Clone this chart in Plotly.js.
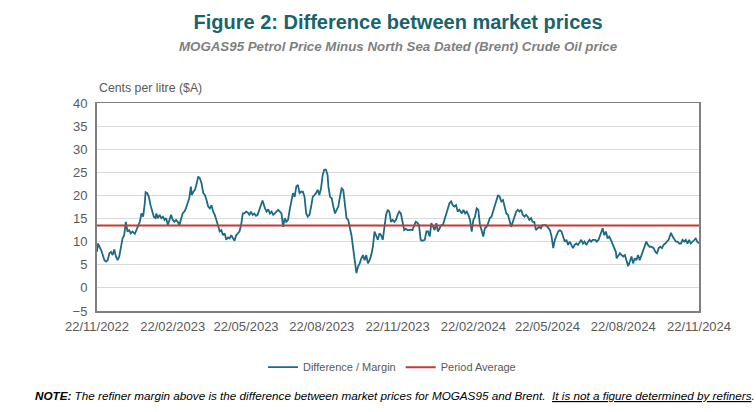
<!DOCTYPE html>
<html>
<head>
<meta charset="utf-8">
<script src="https://cdn.plot.ly/plotly-3.0.1.min.js"></script>
<style>html,body{margin:0;padding:0;background:#fff;}#chart{width:756px;height:412px;}</style>
</head>
<body>
<div id="chart"></div>
<script>
const dates = [
"2022-11-22","2022-11-23","2022-11-25","2022-11-27","2022-11-29","2022-12-01","2022-12-03","2022-12-05","2022-12-07","2022-12-09",
"2022-12-11","2022-12-13","2022-12-15","2022-12-17","2022-12-19","2022-12-21","2022-12-23","2022-12-25","2022-12-27","2022-12-29",
"2022-12-31","2023-01-02","2023-01-04","2023-01-07","2023-01-09","2023-01-11","2023-01-13","2023-01-15","2023-01-17","2023-01-19",
"2023-01-20","2023-01-22","2023-01-24","2023-01-26","2023-01-28","2023-01-30","2023-02-01","2023-02-02","2023-02-04","2023-02-06",
"2023-02-08","2023-02-10","2023-02-12","2023-02-14","2023-02-16","2023-02-18","2023-02-20","2023-02-22","2023-02-24","2023-02-26",
"2023-02-28","2023-03-02","2023-03-04","2023-03-06","2023-03-08","2023-03-10","2023-03-12","2023-03-14","2023-03-16","2023-03-17",
"2023-03-19","2023-03-21","2023-03-23","2023-03-25","2023-03-27","2023-03-29","2023-03-31","2023-04-02","2023-04-04","2023-04-06",
"2023-04-08","2023-04-10","2023-04-12","2023-04-14","2023-04-16","2023-04-18","2023-04-20","2023-04-22","2023-04-24","2023-04-26",
"2023-04-28","2023-04-30","2023-05-02","2023-05-04","2023-05-06","2023-05-08","2023-05-10","2023-05-12","2023-05-14","2023-05-16",
"2023-05-18","2023-05-20","2023-05-22","2023-05-24","2023-05-26","2023-05-28","2023-05-30","2023-06-01","2023-06-03","2023-06-05",
"2023-06-07","2023-06-09","2023-06-11","2023-06-14","2023-06-16","2023-06-18","2023-06-20","2023-06-22","2023-06-24","2023-06-26",
"2023-06-28","2023-06-30","2023-07-02","2023-07-04","2023-07-06","2023-07-08","2023-07-10","2023-07-12","2023-07-14","2023-07-16",
"2023-07-18","2023-07-20","2023-07-22","2023-07-24","2023-07-26","2023-07-28","2023-07-30","2023-08-01","2023-08-03","2023-08-05",
"2023-08-07","2023-08-09","2023-08-11","2023-08-13","2023-08-15","2023-08-17","2023-08-19","2023-08-21","2023-08-23","2023-08-25",
"2023-08-27","2023-08-29","2023-08-30","2023-09-01","2023-09-03","2023-09-05","2023-09-07","2023-09-09","2023-09-11","2023-09-13",
"2023-09-15","2023-09-17","2023-09-19","2023-09-21","2023-09-23","2023-09-25","2023-09-27","2023-09-29","2023-10-01","2023-10-03",
"2023-10-05","2023-10-07","2023-10-09","2023-10-11","2023-10-13","2023-10-15","2023-10-17","2023-10-19","2023-10-21","2023-10-23",
"2023-10-25","2023-10-27","2023-10-29","2023-10-31","2023-11-02","2023-11-04","2023-11-06","2023-11-08","2023-11-10","2023-11-12",
"2023-11-14","2023-11-16","2023-11-18","2023-11-20","2023-11-22","2023-11-24","2023-11-26","2023-11-28","2023-11-30","2023-12-02",
"2023-12-04","2023-12-06","2023-12-08","2023-12-10","2023-12-12","2023-12-14","2023-12-16","2023-12-18","2023-12-20","2023-12-22",
"2023-12-25","2023-12-27","2023-12-29","2023-12-31","2024-01-02","2024-01-04","2024-01-06","2024-01-08","2024-01-10","2024-01-12",
"2024-01-14","2024-01-16","2024-01-18","2024-01-20","2024-01-22","2024-01-24","2024-01-26","2024-01-28","2024-01-30","2024-02-01",
"2024-02-03","2024-02-05","2024-02-08","2024-02-10","2024-02-12","2024-02-14","2024-02-16","2024-02-18","2024-02-20","2024-02-22",
"2024-02-24","2024-02-26","2024-02-28","2024-03-01","2024-03-03","2024-03-05","2024-03-07","2024-03-09","2024-03-11","2024-03-13",
"2024-03-15","2024-03-17","2024-03-19","2024-03-21","2024-03-23","2024-03-25","2024-03-27","2024-03-29","2024-03-31","2024-04-02",
"2024-04-04","2024-04-06","2024-04-08","2024-04-10","2024-04-12","2024-04-14","2024-04-16","2024-04-18","2024-04-20","2024-04-22",
"2024-04-24","2024-04-26","2024-04-28","2024-04-30","2024-05-02","2024-05-04","2024-05-06","2024-05-08","2024-05-10","2024-05-12",
"2024-05-14","2024-05-16","2024-05-18","2024-05-20","2024-05-22","2024-05-25","2024-05-27","2024-05-29","2024-05-31","2024-06-02",
"2024-06-04","2024-06-06","2024-06-08","2024-06-10","2024-06-12","2024-06-14","2024-06-16","2024-06-18","2024-06-20","2024-06-22",
"2024-06-24","2024-06-26","2024-06-28","2024-06-30","2024-07-02","2024-07-04","2024-07-06","2024-07-08","2024-07-10","2024-07-12",
"2024-07-14","2024-07-16","2024-07-19","2024-07-21","2024-07-23","2024-07-25","2024-07-27","2024-07-28","2024-07-30","2024-08-01",
"2024-08-03","2024-08-05","2024-08-07","2024-08-09","2024-08-11","2024-08-13","2024-08-14","2024-08-16","2024-08-18","2024-08-20",
"2024-08-22","2024-08-24","2024-08-26","2024-08-28","2024-08-30","2024-09-01","2024-09-03","2024-09-05","2024-09-07","2024-09-09",
"2024-09-11","2024-09-13","2024-09-15","2024-09-17","2024-09-19","2024-09-21","2024-09-23","2024-09-25","2024-09-28","2024-09-30",
"2024-10-02","2024-10-04","2024-10-06","2024-10-08","2024-10-10","2024-10-12","2024-10-14","2024-10-16","2024-10-18","2024-10-19",
"2024-10-21","2024-10-23","2024-10-25","2024-10-27","2024-10-29","2024-10-31","2024-11-02","2024-11-04","2024-11-06","2024-11-08",
"2024-11-10","2024-11-12","2024-11-14","2024-11-16","2024-11-18","2024-11-20","2024-11-22"
];
const margin = [
7.8,9.6,8.9,8.2,7.1,6.0,5.7,6.0,7.5,7.8,
7.1,8.3,6.8,6.0,6.8,8.6,10.7,11.4,14.3,12.2,
12.5,11.8,12.2,11.7,12.5,13.2,14.3,16.1,15.4,18.3,
20.7,20.5,19.7,17.9,16.5,15.4,15.1,16.1,15.1,15.8,
15.1,15.4,14.7,15.1,13.6,14.7,15.8,14.7,14.3,14.7,
14.3,13.6,15.1,16.1,16.5,17.2,18.3,19.4,21.9,20.1,
20.8,21.2,22.6,24.1,23.7,22.6,20.5,20.1,19.0,17.6,
17.2,17.9,16.5,15.8,14.7,13.6,12.2,12.5,11.4,11.8,
10.4,10.9,10.7,11.4,10.7,10.2,11.4,11.9,12.2,13.6,
16.1,16.1,16.5,16.3,15.8,16.5,15.8,16.1,15.6,15.8,
16.9,18.3,18.9,17.2,16.5,17.0,16.1,16.5,15.8,16.1,
16.5,16.9,16.5,16.1,13.2,15.1,14.3,14.7,16.9,19.0,
20.5,19.7,21.9,22.3,20.5,20.8,20.8,19.7,16.1,15.4,
15.8,17.6,19.7,20.1,20.5,21.2,20.1,21.5,24.4,25.6,
25.6,24.4,21.9,19.7,19.4,17.6,16.1,16.9,17.6,19.7,
21.5,21.2,18.3,15.1,14.7,13.2,11.4,8.6,6.0,3.2,
4.6,5.3,6.4,7.1,6.0,7.1,5.3,6.0,7.1,8.9,
12.2,11.4,10.4,11.8,11.4,10.4,13.2,15.8,16.9,16.5,
14.3,14.7,14.3,14.7,15.8,16.5,16.1,14.3,12.5,12.8,
12.5,12.5,12.6,12.5,13.6,14.3,14.1,13.6,10.4,10.2,
10.4,12.2,12.2,11.1,14.0,13.2,12.5,14.0,12.2,12.9,
13.6,13.6,14.7,16.1,17.2,18.3,18.7,17.9,17.6,17.9,
16.5,16.9,16.1,16.9,16.1,16.5,15.8,14.7,12.2,14.7,
15.4,17.2,16.9,13.6,12.5,11.1,12.9,13.2,14.0,15.1,
15.4,16.5,17.6,18.7,20.1,19.7,18.7,19.0,17.6,16.1,
15.8,14.3,13.2,14.3,15.4,16.5,16.9,16.5,16.9,15.8,
15.4,15.8,15.4,14.7,15.1,14.3,14.3,12.5,12.9,13.2,
12.9,13.6,13.6,13.6,13.2,12.5,11.1,8.6,10.4,11.4,
12.2,12.5,12.2,11.1,10.0,10.4,9.3,10.0,9.3,8.6,
9.3,9.6,9.3,10.0,10.4,9.6,10.0,9.3,10.0,10.4,
10.0,10.4,10.4,10.0,10.4,11.4,12.2,12.9,11.4,12.2,
10.7,11.1,10.4,9.6,8.6,7.8,6.4,7.1,7.5,7.1,
6.8,7.1,6.0,4.7,5.7,6.8,5.3,6.4,6.0,7.1,
6.0,7.1,8.2,9.3,10.0,9.3,8.9,8.9,8.6,7.8,
7.5,8.6,8.9,8.6,9.3,9.6,10.0,10.4,11.4,11.9,
11.1,10.4,10.0,10.0,9.6,9.6,10.4,10.0,10.4,9.6,
10.4,9.6,10.0,10.4,10.7,10.0,9.6
];
const avgDates = ["2022-11-22", "2024-11-22"];
const avgValues = [13.5, 13.5];
const tickDates = ["2022-11-22","2023-02-22","2023-05-22","2023-08-22","2023-11-22","2024-02-22","2024-05-22","2024-08-22","2024-11-22"];
const tickLabels = ["22/11/2022","22/02/2023","22/05/2023","22/08/2023","22/11/2023","22/02/2024","22/05/2024","22/08/2024","22/11/2024"];
const seriesNames = ["Difference / Margin", "Period Average"];

const base = "Liberation Sans, Arial, sans-serif";

const traces = [
  {x: dates, y: margin, type: "scatter", mode: "lines", name: seriesNames[0],
   line: {color: "#1c6a84", width: 1.8}, hoverinfo: "skip"},
  {x: avgDates, y: avgValues, type: "scatter", mode: "lines", name: seriesNames[1],
   line: {color: "#c23b35", width: 2}, hoverinfo: "skip"}
];

const layout = {
  width: 756, height: 412,
  margin: {l: 97, r: 57, t: 103, b: 101},
  paper_bgcolor: "#ffffff", plot_bgcolor: "#ffffff",
  font: {family: base, color: "#595959"},
  title: {text: "<b>Figure 2: Difference between market prices</b>",
    font: {family: base, size: 20, color: "#17646f"},
    xref: "paper", x: 0.5, xanchor: "center", yref: "container", y: 1 - 22/412, yanchor: "middle"},
  showlegend: true,
  legend: {orientation: "h", x: 0.49, xanchor: "center", y: -0.27, yanchor: "middle",
    font: {family: base, size: 11, color: "#595959"}, itemwidth: 30, tracegroupgap: 0},
  xaxis: {type: "date", range: ["2022-11-22", "2024-11-22"], tickvals: tickDates, ticktext: tickLabels,
    showgrid: false, zeroline: false, showline: true, linecolor: "#7f7f7f", linewidth: 1.5, mirror: true,
    ticks: "", ticklabelstandoff: 3, tickfont: {family: base, size: 13, color: "#595959"}, fixedrange: true},
  yaxis: {range: [-5, 40], dtick: 5, tick0: 0, showgrid: true, gridcolor: "#d9d9d9", gridwidth: 1,
    zeroline: false, showline: true, linecolor: "#7f7f7f", linewidth: 2, mirror: true,
    ticks: "", ticklabelstandoff: 5, tickfont: {family: base, size: 13, color: "#595959"}, fixedrange: true},
  annotations: [
    {text: "<b><i>MOGAS95 Petrol Price Minus North Sea Dated (Brent) Crude Oil price</i></b>",
     xref: "paper", yref: "paper", x: 0.5, y: (311 - 46) / 208, xanchor: "center", yanchor: "middle",
     showarrow: false, font: {family: base, size: 13.3, color: "#7f7f7f"}},
    {text: "Cents per litre ($A)", xref: "paper", yref: "paper", x: 0.0, y: (311 - 88) / 208,
     xanchor: "left", yanchor: "middle", showarrow: false, font: {family: base, size: 12.3, color: "#595959"}},
    {text: "<b><i>NOTE:</i></b><i> The refiner margin above is the difference between market prices for MOGAS95 and Brent.  <span style=\"text-decoration:underline\">It is not a figure determined by refiners</span>.</i>",
     xref: "paper", yref: "paper", x: (33 - 97) / 602, y: (311 - 395) / 208, xanchor: "left", yanchor: "middle",
     showarrow: false, font: {family: base, size: 11.7, color: "#000000"}}
  ]
};

Plotly.newPlot("chart", traces, layout, {staticPlot: true, displayModeBar: false});
</script>
</body>
</html>
